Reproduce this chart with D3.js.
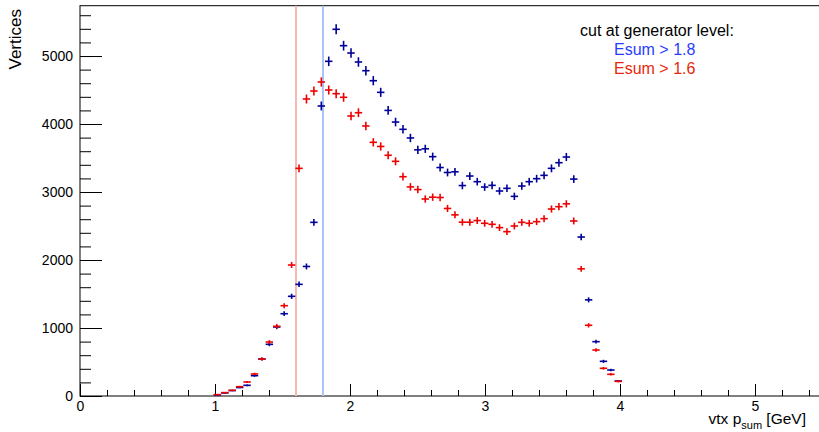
<!DOCTYPE html>
<html>
<head>
<meta charset="utf-8">
<script src="https://cdn.jsdelivr.net/npm/d3@7"></script>
<style>
  body { margin: 0; background: #fff; }
  svg { display: block; font-family: "Liberation Sans", Arial, Helvetica, sans-serif; }
  .tick text { font-size: 14px; fill: #000; }
</style>
</head>
<body>
<div id="vis"></div>
<script>
// histogram: 100 bins from 0 to 5.5, only bins 18..72 are filled
const N_BINS = 100;
const X_MIN = 0, X_MAX = 5.5;
const FIRST_BIN = 18;

// cut Esum > 1.8 (blue)
const BLUE_COUNTS = [15, 45, 80, 125, 157, 299, 544, 760, 1015, 1210,
  1466, 1642, 1905, 2554, 4265, 4922, 5393, 5152, 5044, 4912,
  4784, 4637, 4466, 4200, 4029, 3922, 3795, 3620, 3635, 3520,
  3360, 3287, 3297, 3095, 3235, 3152, 3073, 3098, 3015, 3054,
  2936, 3088, 3152, 3196, 3245, 3348, 3431, 3515, 3190, 2338,
  1414, 799, 510, 382, 220];

// cut Esum > 1.6 (red)
const RED_COUNTS = [20, 50, 84, 137, 206, 324, 544, 794, 1025, 1328,
  1926, 3348, 4368, 4485, 4618, 4500, 4446, 4393, 4118, 4166,
  3971, 3731, 3670, 3540, 3451, 3225, 3075, 3036, 2897, 2924,
  2919, 2758, 2664, 2556, 2556, 2580, 2540, 2525, 2476, 2417,
  2500, 2554, 2540, 2564, 2608, 2750, 2784, 2826, 2574, 1870,
  1040, 676, 407, 319, 215];

const CUT_LINES = [1.6, 1.8];
const X_TICKS = [0, 1, 2, 3, 4, 5];
const Y_TICKS = [0, 1000, 2000, 3000, 4000, 5000];
const Y_MAX = 5740;

const WIDTH = 819, HEIGHT = 432;
const MARGINS = {left: 80, top: 5.7, bottom: 396, right: 822.5};

const svg = d3.select("#vis").append("svg")
  .attr("width", WIDTH)
  .attr("height", HEIGHT);

const X_SCALE = d3.scaleLinear().domain([X_MIN, X_MAX]).range([MARGINS.left, MARGINS.right]);
const Y_SCALE = d3.scaleLinear().domain([0, Y_MAX]).range([MARGINS.bottom, MARGINS.top]);
const BIN_W = (X_MAX - X_MIN) / N_BINS;

// frame
svg.append("rect")
  .attr("x", MARGINS.left)
  .attr("y", MARGINS.top)
  .attr("width", MARGINS.right - MARGINS.left)
  .attr("height", MARGINS.bottom - MARGINS.top)
  .attr("fill", "none")
  .attr("stroke", "#000")
  .attr("stroke-width", 1);

// minor ticks
svg.append("g")
  .attr("transform", "translate(" + MARGINS.left + ",0)")
  .call(d3.axisLeft(Y_SCALE).tickValues(d3.range(0, Y_MAX, 200)).tickSize(-11).tickSizeOuter(0).tickFormat(""))
  .call(g => g.select(".domain").remove());
svg.append("g")
  .attr("transform", "translate(0," + MARGINS.bottom + ")")
  .call(d3.axisBottom(X_SCALE).tickValues(d3.range(0, 5.5, 0.2)).tickSize(-6).tickSizeOuter(0).tickFormat(""))
  .call(g => g.select(".domain").remove());

// major ticks + labels
svg.append("g")
  .attr("transform", "translate(" + MARGINS.left + ",0)")
  .call(d3.axisLeft(Y_SCALE).tickValues(Y_TICKS).tickSize(-22).tickPadding(7).tickSizeOuter(0).tickFormat(d3.format("d")))
  .call(g => g.select(".domain").remove());
svg.append("g")
  .attr("transform", "translate(0," + MARGINS.bottom + ")")
  .call(d3.axisBottom(X_SCALE).tickValues(X_TICKS).tickSize(-12).tickPadding(5).tickSizeOuter(0).tickFormat(d3.format("d")))
  .call(g => g.select(".domain").remove());

svg.selectAll(".tick line").attr("stroke", "#000");

// cut lines
const CUT_COLORS = ["#f3b9b2", "#aac4fa"];
svg.selectAll(".cut")
  .data(CUT_LINES)
  .enter()
  .append("line")
    .attr("class", "cut")
    .attr("x1", d => X_SCALE(d))
    .attr("x2", d => X_SCALE(d))
    .attr("y1", MARGINS.top)
    .attr("y2", MARGINS.bottom)
    .attr("stroke", (d, i) => CUT_COLORS[i])
    .attr("stroke-width", 2);

// error-bar crosses
function drawSeries(counts, color) {
  const g = svg.append("g").attr("stroke", color).attr("stroke-width", 1.6);
  counts.forEach((c, k) => {
    const i = FIRST_BIN + k;
    const lo = X_MIN + i * BIN_W;
    const xc = X_SCALE(lo + BIN_W / 2);
    const err = Math.sqrt(c);
    g.append("line")
      .attr("x1", X_SCALE(lo)).attr("x2", X_SCALE(lo + BIN_W))
      .attr("y1", Y_SCALE(c)).attr("y2", Y_SCALE(c));
    g.append("line")
      .attr("x1", xc).attr("x2", xc)
      .attr("y1", Y_SCALE(c - err)).attr("y2", Y_SCALE(c + err));
  });
}
drawSeries(BLUE_COUNTS, "#000099");
drawSeries(RED_COUNTS, "#ee0000");

// axis titles
svg.append("text")
  .attr("transform", "translate(21,9) rotate(-90)")
  .attr("text-anchor", "end")
  .attr("font-size", 17)
  .text("Vertices");

const xTitle = svg.append("text")
  .attr("x", 806)
  .attr("y", 424)
  .attr("text-anchor", "end")
  .attr("font-size", 15.5);
xTitle.append("tspan").text("vtx p");
xTitle.append("tspan").attr("font-size", 11).attr("dy", 5).text("sum");
xTitle.append("tspan").attr("dy", -5).text(" [GeV]");

// legend text
svg.append("text").attr("x", 580).attr("y", 36).attr("font-size", 16).text("cut at generator level:");
svg.append("text").attr("x", 614).attr("y", 55).attr("font-size", 16).attr("fill", "#2a3cff").text("Esum > 1.8");
svg.append("text").attr("x", 614).attr("y", 74).attr("font-size", 16).attr("fill", "#e8280c").text("Esum > 1.6");
</script>
</body>
</html>
